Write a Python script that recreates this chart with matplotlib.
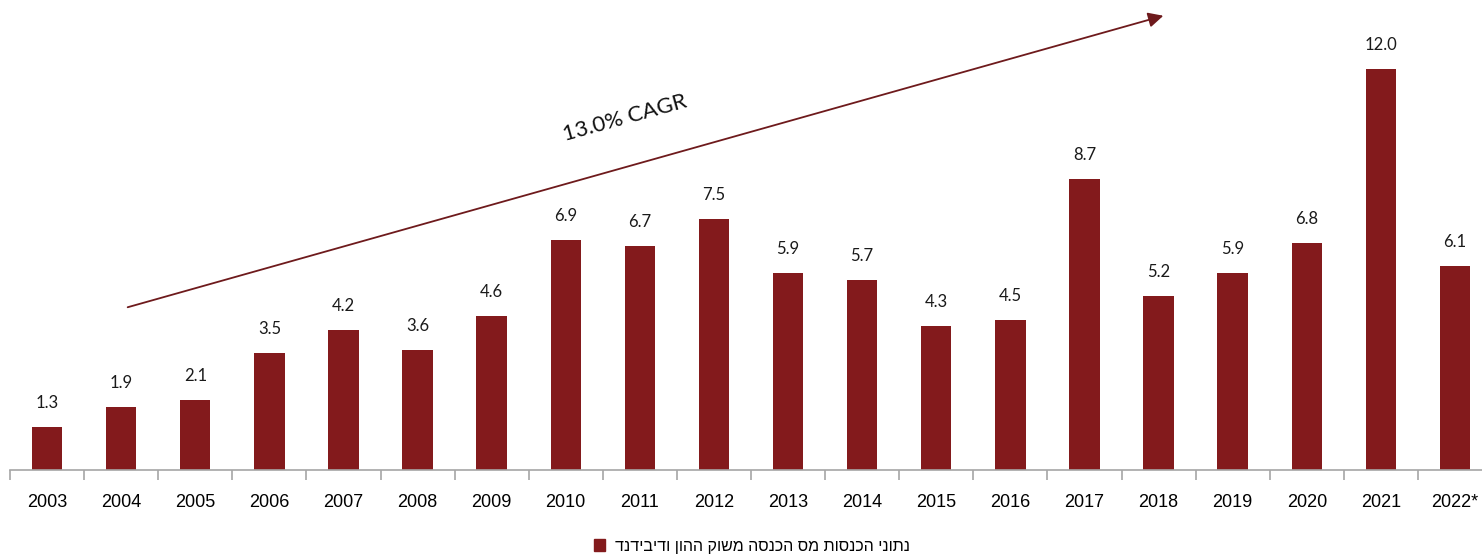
import numpy as np
import matplotlib.pyplot as plt
from matplotlib.patches import Patch, FancyArrowPatch

years = ['2003', '2004', '2005', '2006', '2007', '2008', '2009', '2010', '2011', '2012',
         '2013', '2014', '2015', '2016', '2017', '2018', '2019', '2020', '2021', '2022*']
revenue = [1.3, 1.9, 2.1, 3.5, 4.2, 3.6, 4.6, 6.9, 6.7, 7.5,
           5.9, 5.7, 4.3, 4.5, 8.7, 5.2, 5.9, 6.8, 12.0, 6.1]
legend_label = 'נתוני הכנסות מס הכנסה משוק ההון ודיבידנד'
cagr_text = '13.0% CAGR'

bar_color = '#831a1c'
arrow_color = '#6e1a1c'

W, H = 1482, 556
fig = plt.figure(figsize=(W / 100, H / 100), dpi=100)
# axes spans x 10..1492 px, y 0..470 px (from top)
ax = fig.add_axes([10 / W, (H - 470) / H, 1482 / W, 470 / H])

x = np.arange(len(years))
ax.bar(x, revenue, width=0.41, color=bar_color, zorder=2)
ax.set_xlim(-0.5, len(years) - 0.5)
ax.set_ylim(0, 14.07)

for xi, v in zip(x, revenue):
    ax.annotate('{:.1f}'.format(v), (xi, v), xytext=(0, 16), textcoords='offset pixels',
                ha='center', va='bottom', fontsize=12, family=['Lato', 'DejaVu Sans'],
                color='#1a1a1a')

for s in ['top', 'right', 'left']:
    ax.spines[s].set_visible(False)
ax.spines['bottom'].set_color('#a6a6a6')
ax.spines['bottom'].set_linewidth(1.2)
ax.set_yticks([])
ax.set_xticks(x)
ax.set_xticklabels(years, family=['Liberation Sans Narrow', 'Liberation Sans'], fontsize=13)
ax.tick_params(axis='x', which='major', length=0, pad=17)
ax.set_xticks(np.arange(-0.5, len(years), 1), minor=True)
ax.tick_params(axis='x', which='minor', length=7, color='#a6a6a6', width=1.2)

# CAGR arrow (figure pixel coords)
fig.add_artist(FancyArrowPatch(
    (125 / W, 1 - 308 / H), (1166 / W, 1 - 15 / H), transform=fig.transFigure,
    arrowstyle='-|>,head_length=9,head_width=4.5', mutation_scale=1,
    color=arrow_color, lw=1.3))
fig.text(625 / W, 1 - 118 / H, cagr_text, rotation=15.5, ha='center', va='center',
         fontsize=16, family=['Lato', 'DejaVu Sans'], color='#111111')

# legend (Hebrew reversed for visual RTL order)
handle = Patch(facecolor=bar_color, edgecolor=bar_color)
fig.legend([handle], [legend_label[::-1]], loc='center', bbox_to_anchor=(752 / W, 1 - 546 / H),
           frameon=False, handlelength=0.7, handleheight=0.7, handletextpad=0.6,
           prop={'family': ['Liberation Sans', 'DejaVu Sans'], 'size': 11.5})

fig.savefig('out.png', dpi=100)
